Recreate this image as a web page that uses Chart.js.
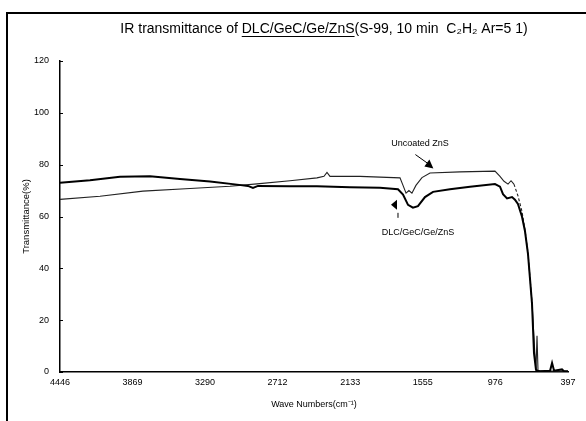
<!DOCTYPE html>
<html lang="en">

<head>
    <meta charset="UTF-8">
    <title>IR transmittance</title>
    <script src="https://cdn.jsdelivr.net/npm/chart.js"></script>
    <style>
        html, body {
            margin: 0;
            padding: 0;
            background: #fff;
        }

        .chart-container {
            position: relative;
            width: 586px;
            height: 421px;
        }
    </style>
</head>

<body>
    <div class="chart-container">
        <canvas id="graficoIR" width="586" height="421"></canvas>
    </div>

    <script>
        // eje x (numero de onda, cm-1)
        const etiquetasX = [4446, 3869, 3290, 2712, 2133, 1555, 976, 397];

        // DLC/GeC/Ge/ZnS
        const dlcOnda = [4446, 4207, 3968, 3729, 3490, 3250, 3035, 2948, 2908, 2868, 2613, 2398, 2135, 1896, 1752, 1712, 1672, 1633, 1593, 1537, 1473, 1338, 1178, 979, 939, 915, 883, 843, 820, 796, 764, 740, 716, 700, 684, 668, 652, 640, 620, 540, 524, 508, 445, 429, 397];
        const dlcTrans = [73.0, 74.0, 75.3, 75.5, 74.5, 73.5, 72.3, 71.8, 71.0, 71.8, 71.7, 71.7, 71.3, 71.1, 70.5, 68.5, 64.5, 63.4, 64.0, 67.5, 69.5, 70.5, 71.5, 72.5, 71.5, 68.6, 67.0, 67.5, 66.5, 64.8, 60.0, 54.4, 45.6, 36.0, 26.5, 7.3, 0.8, 0.5, 0.3, 0.5, 3.5, 0.5, 1.0, 0.3, 0.3];

        // Uncoated ZnS
        const znsOnda = [4446, 4127, 3785, 3410, 3091, 2876, 2613, 2398, 2342, 2318, 2294, 2055, 1736, 1712, 1688, 1665, 1641, 1609, 1561, 1497, 1258, 979, 939, 907, 875, 851, 828, 796, 764, 740, 716, 684, 660, 652, 644, 636, 397];
        const znsTrans = [66.6, 67.8, 69.8, 70.8, 71.7, 72.6, 73.8, 74.9, 75.5, 77.0, 75.5, 75.5, 74.9, 72.0, 69.0, 70.0, 69.0, 72.0, 75.0, 76.8, 77.2, 77.5, 75.5, 73.6, 72.5, 73.8, 72.5, 68.0, 62.0, 55.0, 46.0, 27.0, 6.0, 1.0, 14.0, 0.5, 0.3];

        const fuente = "'Liberation Sans', Arial, sans-serif";

        function puntos(ondas, valores) {
            return ondas.map((x, i) => ({ x: x, y: valores[i] }));
        }

        // titulo, marco, marcas del eje y, anotaciones
        const extras = {
            id: 'extras',
            afterDraw(chart) {
                const ctx = chart.ctx;
                const sx = chart.scales.x, sy = chart.scales.y;
                ctx.save();

                // marco del escaneo
                ctx.fillStyle = '#000';
                ctx.strokeStyle = '#000';
                ctx.fillRect(6, 12, 2, 409);
                ctx.fillRect(6, 12, 580, 2);

                // marcas hacia dentro en el eje y
                ctx.lineWidth = 1;
                sy.ticks.forEach(t => {
                    const py = Math.round(sy.getPixelForValue(t.value)) + 0.5;
                    ctx.beginPath();
                    ctx.moveTo(sx.left, py);
                    ctx.lineTo(sx.left + 3, py);
                    ctx.stroke();
                });

                // titulo con subrayado
                ctx.font = '14px ' + fuente;
                ctx.textBaseline = 'alphabetic';
                const p1 = 'IR transmittance of ';
                const p2 = 'DLC/GeC/Ge/ZnS';
                const p3 = '(S-99, 10 min  C\u2082H\u2082 Ar=5 1)';
                const total = ctx.measureText(p1 + p2 + p3).width;
                let x = 324 - total / 2;
                ctx.textAlign = 'left';
                ctx.fillText(p1, x, 33);
                x += ctx.measureText(p1).width;
                ctx.fillText(p2, x, 33);
                const w2 = ctx.measureText(p2).width;
                ctx.fillRect(x, 36, w2, 1);
                x += w2;
                ctx.fillText(p3, x, 33);

                // Uncoated ZnS
                ctx.font = '9px ' + fuente;
                ctx.textAlign = 'center';
                ctx.fillText('Uncoated ZnS', 420, 146);
                const ax = sx.getPixelForValue(1470), ay = sy.getPixelForValue(78.5);
                ctx.beginPath();
                ctx.moveTo(ax - 18, ay - 14);
                ctx.lineTo(ax - 4, ay - 4);
                ctx.stroke();
                ctx.beginPath();
                ctx.moveTo(ax, ay);
                ctx.lineTo(ax - 9, ay - 2);
                ctx.lineTo(ax - 4, ay - 9);
                ctx.closePath();
                ctx.fill();

                // DLC/GeC/Ge/ZnS
                ctx.fillText('DLC/GeC/Ge/ZnS', 418, 235);
                const bx = sx.getPixelForValue(1760), by = sy.getPixelForValue(64.5);
                ctx.beginPath();
                ctx.moveTo(bx - 6, by);
                ctx.lineTo(bx, by - 5);
                ctx.lineTo(bx, by + 5);
                ctx.closePath();
                ctx.fill();
                ctx.beginPath();
                ctx.moveTo(bx + 1, by + 8);
                ctx.lineTo(bx + 1, by + 13);
                ctx.stroke();

                ctx.restore();
            }
        };

        new Chart(document.getElementById('graficoIR'), {
            type: 'line',
            data: {
                datasets: [{
                    label: 'DLC/GeC/Ge/ZnS',
                    data: puntos(dlcOnda, dlcTrans),
                    borderColor: '#000',
                    borderWidth: 2,
                    pointRadius: 0,
                    tension: 0
                }, {
                    label: 'Uncoated ZnS',
                    data: puntos(znsOnda, znsTrans),
                    borderColor: '#222',
                    borderWidth: 1.1,
                    pointRadius: 0,
                    tension: 0,
                    segment: {
                        borderDash: c => (c.p0.parsed.x < 830 && c.p0.parsed.x > 690) ? [3, 2] : undefined
                    }
                }]
            },
            options: {
                responsive: false,
                animation: false,
                devicePixelRatio: 1,
                layout: { padding: { top: 61, right: 18, left: 16, bottom: 7 } },
                plugins: {
                    legend: { display: false },
                    tooltip: { enabled: false }
                },
                scales: {
                    x: {
                        type: 'linear',
                        reverse: true,
                        min: 397,
                        max: 4446,
                        afterBuildTicks: s => { s.ticks = etiquetasX.map(v => ({ value: v })); },
                        afterFit: s => { s.height = 42; },
                        grid: { display: false, drawTicks: false },
                        border: { color: '#000', width: 1.5 },
                        ticks: {
                            color: '#000',
                            font: { family: fuente, size: 9 },
                            padding: 5,
                            maxRotation: 0,
                            autoSkip: false,
                            callback: v => String(v)
                        },
                        title: {
                            display: true,
                            text: 'Wave Numbers(cm\u207B\u00B9)',
                            color: '#000',
                            font: { family: fuente, size: 9 },
                            padding: { top: 2 }
                        }
                    },
                    y: {
                        min: 0,
                        max: 120,
                        afterFit: s => { s.width = 44; },
                        grid: { display: false, drawTicks: false },
                        border: { color: '#000', width: 1.5 },
                        ticks: {
                            stepSize: 20,
                            color: '#000',
                            font: { family: fuente, size: 9 },
                            padding: 11
                        },
                        title: {
                            display: true,
                            text: 'Transmittance(%)',
                            color: '#000',
                            font: { family: fuente, size: 9.5 },
                            padding: { top: 5, bottom: 0 }
                        }
                    }
                }
            },
            plugins: [extras]
        });
    </script>
</body>

</html>
